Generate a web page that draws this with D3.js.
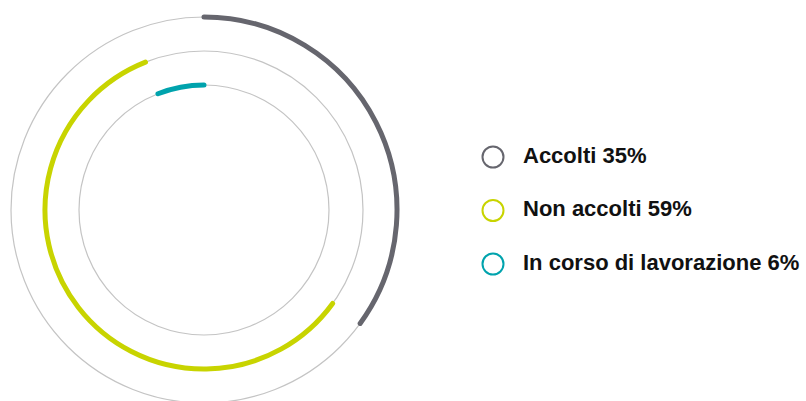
<!DOCTYPE html>
<html>
<head>
<meta charset="utf-8">
<script src="https://cdn.jsdelivr.net/npm/d3@7"></script>
<style>
  body { margin: 0; background: #fff; }
  text { font-family: "Liberation Sans", Arial, sans-serif; font-weight: bold; }
</style>
</head>
<body>
<div id="chart"></div>
<script>
'use strict';

// categories and their share (percent), outer ring first
const categories = ["Accolti", "Non accolti", "In corso di lavorazione"];
const shares = [35, 59, 6];
const colors = ["#66666e", "#c8d400", "#00a3ad"];
const legendLabels = ["Accolti 35%", "Non accolti 59%", "In corso di lavorazione 6%"];

const width = 806, height = 401;
const cx = 204, cy = 210;

const svg = d3.select("#chart")
    .append("svg")
    .attr("width", width)
    .attr("height", height);

// each ring sits inside the previous one
const radius = d3.scaleLinear()
    .domain([0, 2])
    .range([193, 125]);

// percent -> angle, each arc starts where the previous one ended
const angle = d3.scaleLinear()
    .domain([0, 100])
    .range([0, 2 * Math.PI]);

let starts = [];
let acc = 0;
shares.forEach(s => { starts.push(acc); acc += s; });

const g = svg.append("g")
    .attr("transform", "translate(" + cx + "," + cy + ")");

// thin background rings
g.selectAll("circle.track")
    .data(categories)
    .enter()
    .append("circle")
    .attr("class", "track")
    .attr("r", (d, i) => radius(i))
    .attr("fill", "none")
    .attr("stroke", "#c4c4c4")
    .attr("stroke-width", 1.2);

// coloured arcs drawn as stroked paths
const arcLine = (i) => {
    let a0 = angle(starts[i]), a1 = angle(starts[i] + shares[i]);
    let path = d3.path();
    path.arc(0, 0, radius(i), a0 - Math.PI / 2, a1 - Math.PI / 2, false);
    return path.toString();
};

g.selectAll("path.share")
    .data(categories)
    .enter()
    .append("path")
    .attr("class", "share")
    .attr("d", (d, i) => arcLine(i))
    .attr("fill", "none")
    .attr("stroke", (d, i) => colors[i])
    .attr("stroke-width", 5)
    .attr("stroke-linecap", "round");

// legend
const legendY = d3.scalePoint()
    .domain(categories)
    .range([157, 264]);

const legend = svg.append("g");
const item = legend.selectAll("g")
    .data(categories)
    .enter()
    .append("g")
    .attr("transform", d => "translate(0," + legendY(d) + ")");

item.append("circle")
    .attr("cx", 493)
    .attr("r", 10.5)
    .attr("fill", "none")
    .attr("stroke", (d, i) => colors[i])
    .attr("stroke-width", 2);

item.append("text")
    .attr("x", 523)
    .attr("y", 5.5)
    .attr("font-size", 22)
    .attr("fill", "#111")
    .text((d, i) => legendLabels[i]);
</script>
</body>
</html>
